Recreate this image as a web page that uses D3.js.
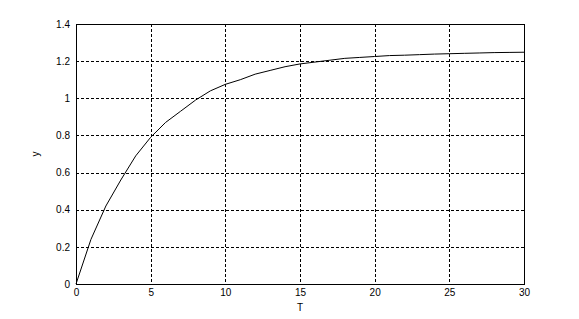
<!DOCTYPE html>
<html>
<head>
<meta charset="utf-8">
<script src="https://cdn.jsdelivr.net/npm/d3@7"></script>
<style>
  body { margin: 0; background: #fff; }
  text { font-family: "Liberation Sans", Arial, sans-serif; font-size: 10px; fill: #000; }
</style>
</head>
<body>
<div id="chart"></div>
<script>
// values
var tValues = [0, 1, 2, 3, 4, 5, 6, 7, 8, 9, 10, 11, 12, 13, 14, 15, 16, 17, 18, 19, 20, 21, 22, 23, 24, 25, 26, 27, 28, 29, 30];
var yValues = [0, 0.24, 0.42, 0.56, 0.69, 0.79, 0.87, 0.93, 0.99, 1.04, 1.075, 1.10, 1.13, 1.15, 1.17, 1.185, 1.195, 1.205, 1.215, 1.22, 1.225, 1.23, 1.232, 1.235, 1.238, 1.24, 1.242, 1.244, 1.246, 1.247, 1.248];
var xTicks = [0, 5, 10, 15, 20, 25, 30];
var yTicks = [0, 0.2, 0.4, 0.6, 0.8, 1, 1.2, 1.4];

var W = 579, H = 319;
var margin = {top: 24, right: 55, bottom: 35, left: 76},
    width = W - margin.left - margin.right,
    height = H - margin.top - margin.bottom;

var svg = d3.select("#chart").append("svg")
    .attr("width", W)
    .attr("height", H)
  .append("g")
    .attr("transform", "translate(" + margin.left + "," + margin.top + ")");

var x = d3.scaleLinear().domain([0, 30]).range([0, width]);
var y = d3.scaleLinear().domain([0, 1.4]).range([height, 0]);

// dashed grid
svg.append("g").selectAll("line.vg")
    .data(xTicks.slice(1, -1))
  .enter().append("line")
    .attr("x1", function(d) { return Math.round(x(d)) + 0.5; })
    .attr("x2", function(d) { return Math.round(x(d)) + 0.5; })
    .attr("y1", 0).attr("y2", height)
    .attr("stroke", "#000").attr("stroke-dasharray", "3,2");

svg.append("g").selectAll("line.hg")
    .data(yTicks.slice(1, -1))
  .enter().append("line")
    .attr("y1", function(d) { return Math.round(y(d)) + 0.5; })
    .attr("y2", function(d) { return Math.round(y(d)) + 0.5; })
    .attr("x1", 0).attr("x2", width)
    .attr("stroke", "#000").attr("stroke-dasharray", "3,2");

// axes
var xAxis = svg.append("g")
    .attr("transform", "translate(0," + height + ")")
    .call(d3.axisBottom(x).tickValues(xTicks).tickSize(0).tickPadding(5).tickFormat(d3.format("d")));
var yAxis = svg.append("g")
    .call(d3.axisLeft(y).tickValues(yTicks).tickSize(0).tickPadding(6).tickFormat(function(d) { return d3.format("")(+d.toFixed(1)); }));
xAxis.select(".domain").remove();
yAxis.select(".domain").remove();

// box
svg.append("rect")
    .attr("x", 0.5).attr("y", 0.5)
    .attr("width", width).attr("height", height)
    .attr("fill", "none").attr("stroke", "#000");

// curve
svg.append("path")
    .datum(tValues)
    .attr("d", d3.line()
      .x(function(d) { return x(d); })
      .y(function(d, i) { return y(yValues[i]); }))
    .attr("fill", "none")
    .attr("stroke", "#000")
    .attr("stroke-width", 1);

// axis labels
svg.append("text")
    .attr("x", width / 2)
    .attr("y", height + 27)
    .style("text-anchor", "middle")
    .text("T");

svg.append("text")
    .attr("transform", "rotate(-90)")
    .attr("x", -height / 2)
    .attr("y", -37)
    .style("text-anchor", "middle")
    .text("y");
</script>
</body>
</html>
